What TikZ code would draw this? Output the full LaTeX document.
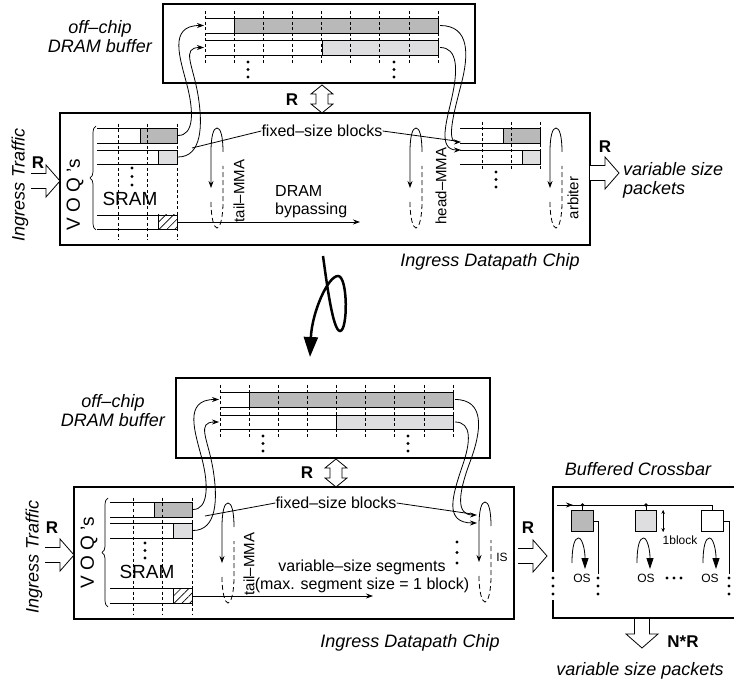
\documentclass[tikz,border=0pt]{standalone}
\usepackage{fontspec}
\setmainfont{Liberation Sans}
\usepackage{tikz}
\usetikzlibrary{arrows.meta,decorations.pathreplacing,patterns.meta}
\definecolor{cellDark}{HTML}{B9B9B9}
\definecolor{cellLight}{HTML}{DEDEE0}

\begin{document}
\begin{tikzpicture}[x=1pt,y=-1pt,
  chip/.style={draw,line width=2.6pt,inner sep=0pt},
  lbl/.style={font=\fontsize{16}{18}\selectfont,inner sep=0pt,align=center},
  ilbl/.style={font=\fontsize{18}{19}\selectfont\itshape,inner sep=0pt,align=center},
  rlbl/.style={font=\fontsize{17}{19}\selectfont\bfseries,inner sep=0pt},
  slbl/.style={font=\fontsize{12}{14}\selectfont,inner sep=0pt},
  grid/.style={dash pattern=on 3pt off 2.5pt,line width=0.6pt},
  ln/.style={line width=0.8pt},
  arr/.style={-{Stealth[length=7pt,width=5pt]},line width=0.8pt},
  hatch/.style={pattern={Lines[angle=45,distance=5.5pt,line width=0.6pt]}},
  cell/.style={draw,line width=0.8pt,minimum size=21.5pt,inner sep=0pt},
  brc/.style={decorate,decoration={brace,amplitude=6pt},line width=0.7pt},
  mmaloop/.pic={
    \draw[arr] (6,24) .. controls (6,8) and (3.5,0) .. (0,0)
      .. controls (-3.5,0) and (-6,8) .. (-6,24) -- (-6,60);
    \draw[ln,dash pattern=on 5pt off 3pt] (-6,74) .. controls (-6,90) and (-3,100) .. (0,100)
      .. controls (3,100) and (6,90) .. (6,74) -- (6,38);},
  osloop/.pic={
    \draw[line width=0.8pt,-{Triangle[length=11pt,width=7pt]}] (0,0)
      .. controls (0,-18) and (3,-25) .. (6.5,-25) .. controls (10,-25) and (13,-14) .. (13,6);},
  fatarr/.pic={
    \draw[ln,fill=white] (0,-7.5) -- (15,-7.5) -- (15,-16) -- (29,0) -- (15,16) -- (15,7.5) -- (0,7.5);},
  dblarr/.pic={
    \draw[ln,fill=white] (0,-14) -- (11,-5) -- (6,-5) -- (6,5) -- (11,5) -- (0,14)
      -- (-11,5) -- (-6,5) -- (-6,-5) -- (-11,-5) -- cycle;}]
  \useasboundingbox (0,0) rectangle (734,684);

  % ===== upper half: off-chip DRAM
  \node[chip,minimum width=312pt,minimum height=79pt] (dramA) at (319,43.5) {};
  \node[ilbl] (dramAlbl) at (100,37) {off–chip\\DRAM buffer};
  \fill[cellDark] (234,18) rectangle (438,33);
  \fill[cellLight] (322,40) rectangle (438,55);
  \foreach \i in {0,...,8} \draw[grid] (205+29.125*\i,11) -- (205+29.125*\i,65);
  \draw[ln] (205,18) -- (234,18) (205,33) -- (234,33) (234,18) rectangle (438,33);
  \draw[ln] (205,40) -- (322,40) (205,55) -- (322,55) (322,40) rectangle (438,55);
  \foreach \y in {62,69.5,77} \fill (248,\y) circle (1.7pt) (394,\y) circle (1.7pt);
  \coordinate (dA1) at (204,25.5);   \coordinate (dA2) at (204,47.5);
  \coordinate (dA1o) at (440,25.5);  \coordinate (dA2o) at (440,47.5);

  \node[rlbl] (rA) at (292,100) {R};
  \pic at (322,99) {dblarr};

  % ===== upper half: ingress chip
  \node[chip,minimum width=530pt,minimum height=132pt] (chipA) at (325,179) {};
  \node[ilbl,rotate=90] (trafA) at (20,185) {Ingress Traffic};
  \node[rlbl] (rinA) at (38,163) {R};
  \pic at (31,181) {fatarr};
  \node[lbl,font=\fontsize{19}{20}\selectfont,rotate=90] (voqA) at (75,195) {V O Q 's};
  \draw[brc] (96,230) -- (96,126);
  \fill[cellDark] (140,128) rectangle (177,143);
  \fill[cellLight] (158,150) rectangle (177,164);
  \fill[hatch] (158,215) rectangle (177,229);
  \foreach \x in {118,147,177} \draw[grid] (\x,124) -- (\x,240);
  \draw[ln] (97,128) -- (140,128) (97,143) -- (140,143) (140,128) rectangle (177,143);
  \draw[ln] (97,150) -- (158,150) (97,164) -- (158,164) (158,150) rectangle (177,164);
  \draw[ln] (97,215) -- (158,215) (97,229) -- (158,229) (158,215) rectangle (177,229);
  \foreach \y in {168,176.5,185} \fill (132,\y) circle (1.7pt);
  \node[lbl,font=\fontsize{19}{20}\selectfont] (sramA) at (130,199) {SRAM};
  \coordinate (sA1) at (178,135.5);  \coordinate (sA2) at (178,157);
  \coordinate (hA) at (177,222);     \coordinate (byA) at (360,222);

  \draw[arr] (sA1) .. controls (194,135.5) and (194,112) .. (187,85)
    .. controls (180,58) and (168,25.5) .. (dA1);
  \draw[arr] (sA2) .. controls (202,157) and (203,125) .. (198,95)
    .. controls (193,65) and (181,47.5) .. (dA2);
  \draw[arr] (dA1o) .. controls (470,25.5) and (469,55) .. (461,85)
    .. controls (454,112) and (446,142) .. (461,142);
  \draw[arr] (dA2o) .. controls (458,47.5) and (458,70) .. (452,97)
    .. controls (447,120) and (437,150) .. (461,150);

  \node[lbl] (fixA) at (322,131) {fixed–size blocks};
  \draw[ln] (fixA.west) -- (192,148);
  \draw[ln] (fixA.east) -- (456,141);

  \pic at (217,128) {mmaloop};
  \node[lbl,font=\fontsize{15}{17}\selectfont,rotate=90] (tailA) at (239,191) {tail–MMA};
  \pic at (416,128) {mmaloop};
  \node[lbl,font=\fontsize{15}{17}\selectfont,rotate=90] (headA) at (441,186) {head–MMA};
  \pic at (556,128) {mmaloop};
  \node[lbl,font=\fontsize{15}{17}\selectfont,rotate=90] (arbA) at (573,198) {arbiter};

  \node[lbl,align=left,anchor=west] (bypA) at (275,202) {DRAM\\bypassing};
  \draw[arr] (hA) -- (byA);

  \fill[cellDark] (503,128) rectangle (540,143);
  \fill[cellLight] (522,150) rectangle (540,164);
  \foreach \x in {482,511,540} \draw[grid] (\x,122) -- (\x,170);
  \draw[ln] (460,128) -- (503,128) (460,143) -- (503,143) (503,128) rectangle (540,143);
  \draw[ln] (460,150) -- (522,150) (460,164) -- (522,164) (522,150) rectangle (540,164);
  \foreach \y in {172,179.5,187} \fill (496,\y) circle (1.7pt);

  \node[rlbl] (routA) at (605,147) {R};
  \pic at (590,173) {fatarr};
  \node[ilbl,align=left,anchor=west] (outA) at (623,180) {variable size\\packets};
  \node[ilbl] (chipAlbl) at (490,262) {Ingress Datapath Chip};

  % ===== twisted arrow
  \coordinate (twA) at (323,256);  \coordinate (twB) at (310,357);
  \draw[line width=2.5pt,-{Triangle[length=20pt,width=14pt]}] (twA)
    .. controls (327,285) and (333,331) .. (340,331)
    .. controls (348,331) and (348,276) .. (338,276)
    .. controls (328,276) and (312,312) .. (twB);

  % ===== lower half: off-chip DRAM
  \node[chip,minimum width=314pt,minimum height=80pt] (dramB) at (333,418) {};
  \node[ilbl] (dramBlbl) at (113,411) {off–chip\\DRAM buffer};
  \fill[cellDark] (249,392) rectangle (453,407);
  \fill[cellLight] (336,415) rectangle (453,429);
  \foreach \i in {0,...,8} \draw[grid] (220+29.125*\i,385) -- (220+29.125*\i,439);
  \draw[ln] (220,392) -- (249,392) (220,407) -- (249,407) (249,392) rectangle (453,407);
  \draw[ln] (220,415) -- (336,415) (220,429) -- (336,429) (336,415) rectangle (453,429);
  \foreach \y in {436,443.5,451} \fill (263,\y) circle (1.7pt) (408,\y) circle (1.7pt);
  \coordinate (dB1) at (219,399.5);  \coordinate (dB2) at (219,422);
  \coordinate (dB1o) at (455,399.5); \coordinate (dB2o) at (455,422);

  \node[rlbl] (rB) at (307,473) {R};
  \pic at (336,473) {dblarr};

  % ===== lower half: ingress chip
  \node[chip,minimum width=440pt,minimum height=132pt] (chipB) at (294,553) {};
  \node[ilbl,rotate=90] (trafB) at (34,557) {Ingress Traffic};
  \node[rlbl] (rinB) at (52,528) {R};
  \pic at (45,555) {fatarr};
  \node[lbl,font=\fontsize{19}{20}\selectfont,rotate=90] (voqB) at (89,553) {V O Q 's};
  \draw[brc] (108,607) -- (108,498);
  \fill[cellDark] (154,502) rectangle (192,517);
  \fill[cellLight] (173,523) rectangle (192,538);
  \fill[hatch] (173,588) rectangle (192,603);
  \foreach \x in {133,162,192} \draw[grid] (\x,498) -- (\x,615);
  \draw[ln] (110,502) -- (154,502) (110,517) -- (154,517) (154,502) rectangle (192,517);
  \draw[ln] (110,523) -- (173,523) (110,538) -- (173,538) (173,523) rectangle (192,538);
  \draw[ln] (110,588) -- (173,588) (110,603) -- (173,603) (173,588) rectangle (192,603);
  \foreach \y in {543,550.5,558} \fill (145,\y) circle (1.7pt);
  \node[lbl,font=\fontsize{19}{20}\selectfont] (sramB) at (147,572) {SRAM};
  \coordinate (sB1) at (193,509.5);  \coordinate (sB2) at (193,530.5);
  \coordinate (hB) at (192,596);     \coordinate (byB) at (373,596);

  \draw[arr] (sB1) .. controls (208,509.5) and (209,486) .. (202,459)
    .. controls (195,432) and (183,399.5) .. (dB1);
  \draw[arr] (sB2) .. controls (217,530.5) and (218,499) .. (213,469)
    .. controls (208,439) and (196,422) .. (dB2);
  \draw[arr] (dB1o) .. controls (485,399.5) and (482,430) .. (470,462)
    .. controls (458,494) and (456,515) .. (477,515);
  \draw[arr] (dB2o) .. controls (472,422) and (471,442) .. (462,467)
    .. controls (452,497) and (444,523) .. (477,523);

  \node[lbl] (fixB) at (336,503) {fixed–size blocks};
  \draw[ln] (fixB.west) -- (205,516);
  \draw[ln] (fixB.east) -- (472,514);

  \pic at (228,503) {mmaloop};
  \node[lbl,font=\fontsize{15}{17}\selectfont,rotate=90] (tailB) at (249,564) {tail–MMA};
  \pic at (485,502) {mmaloop};
  \node[slbl] (isB) at (502,557) {IS};
  \foreach \y in {542,552.5,563} \fill (457,\y) circle (1.7pt);

  \node[lbl] (segB) at (362,576) {variable–size segments\\(max. segment size = 1 block)};
  \draw[arr] (hB) -- (byB);

  \node[rlbl] (routB) at (528,528) {R};
  \pic at (518,556) {fatarr};
  \node[ilbl] (chipBlbl) at (410,643) {Ingress Datapath Chip};

  % ===== buffered crossbar
  \node[ilbl] (xbarlbl) at (638,469) {Buffered Crossbar};
  \draw[line width=2.6pt] (734,487) -- (553,487) -- (553,572);
  \draw[line width=2.6pt] (553,600) -- (553,618) -- (734,618);
  \node[cell,fill=cellDark] (xq1) at (582.5,521) {};
  \node[cell,fill=cellLight] (xq2) at (646,521) {};
  \node[cell,fill=white] (xq3) at (712.5,521) {};
  \coordinate (bus) at (557,505);
  \draw[ln] (bus) -| (xq3.north);
  \draw[arr] (bus) -- ++(16,0);
  \fill (xq1.north |- bus) circle (1.9pt) (xq2.north |- bus) circle (1.9pt);
  \draw[ln] (xq1.north |- bus) -- (xq1.north) (xq2.north |- bus) -- (xq2.north);
  \draw[ln] (xq1.east) -| (598,574);
  \draw[ln] (xq3.east) -| (729,574);
  \foreach \y in {578,586,594} \fill (553,\y) circle (1.7pt) (598,\y) circle (1.7pt) (729,\y) circle (1.7pt);
  \draw[ln,{Stealth[length=4pt,width=3.5pt]}-{Stealth[length=4pt,width=3.5pt]}]
    ([xshift=6pt]xq2.north east) -- ([xshift=6pt]xq2.south east);
  \node[slbl] (blk) at (680,540) {1block};
  \pic at (572,563) {osloop};
  \pic at (637,563) {osloop};
  \pic at (703,563) {osloop};
  \node[slbl] (os1) at (582,578) {OS};
  \node[slbl] (os2) at (646,578) {OS};
  \node[slbl] (os3) at (710,578) {OS};
  \foreach \x in {667,674,681} \fill (\x,578) circle (1.7pt);
  \pic[rotate=-90] at (642,619) {fatarr};
  \node[rlbl] (nr) at (683,642) {N*R};
  \node[ilbl] (outB) at (640,671) {variable size packets};
\end{tikzpicture}
\end{document}
